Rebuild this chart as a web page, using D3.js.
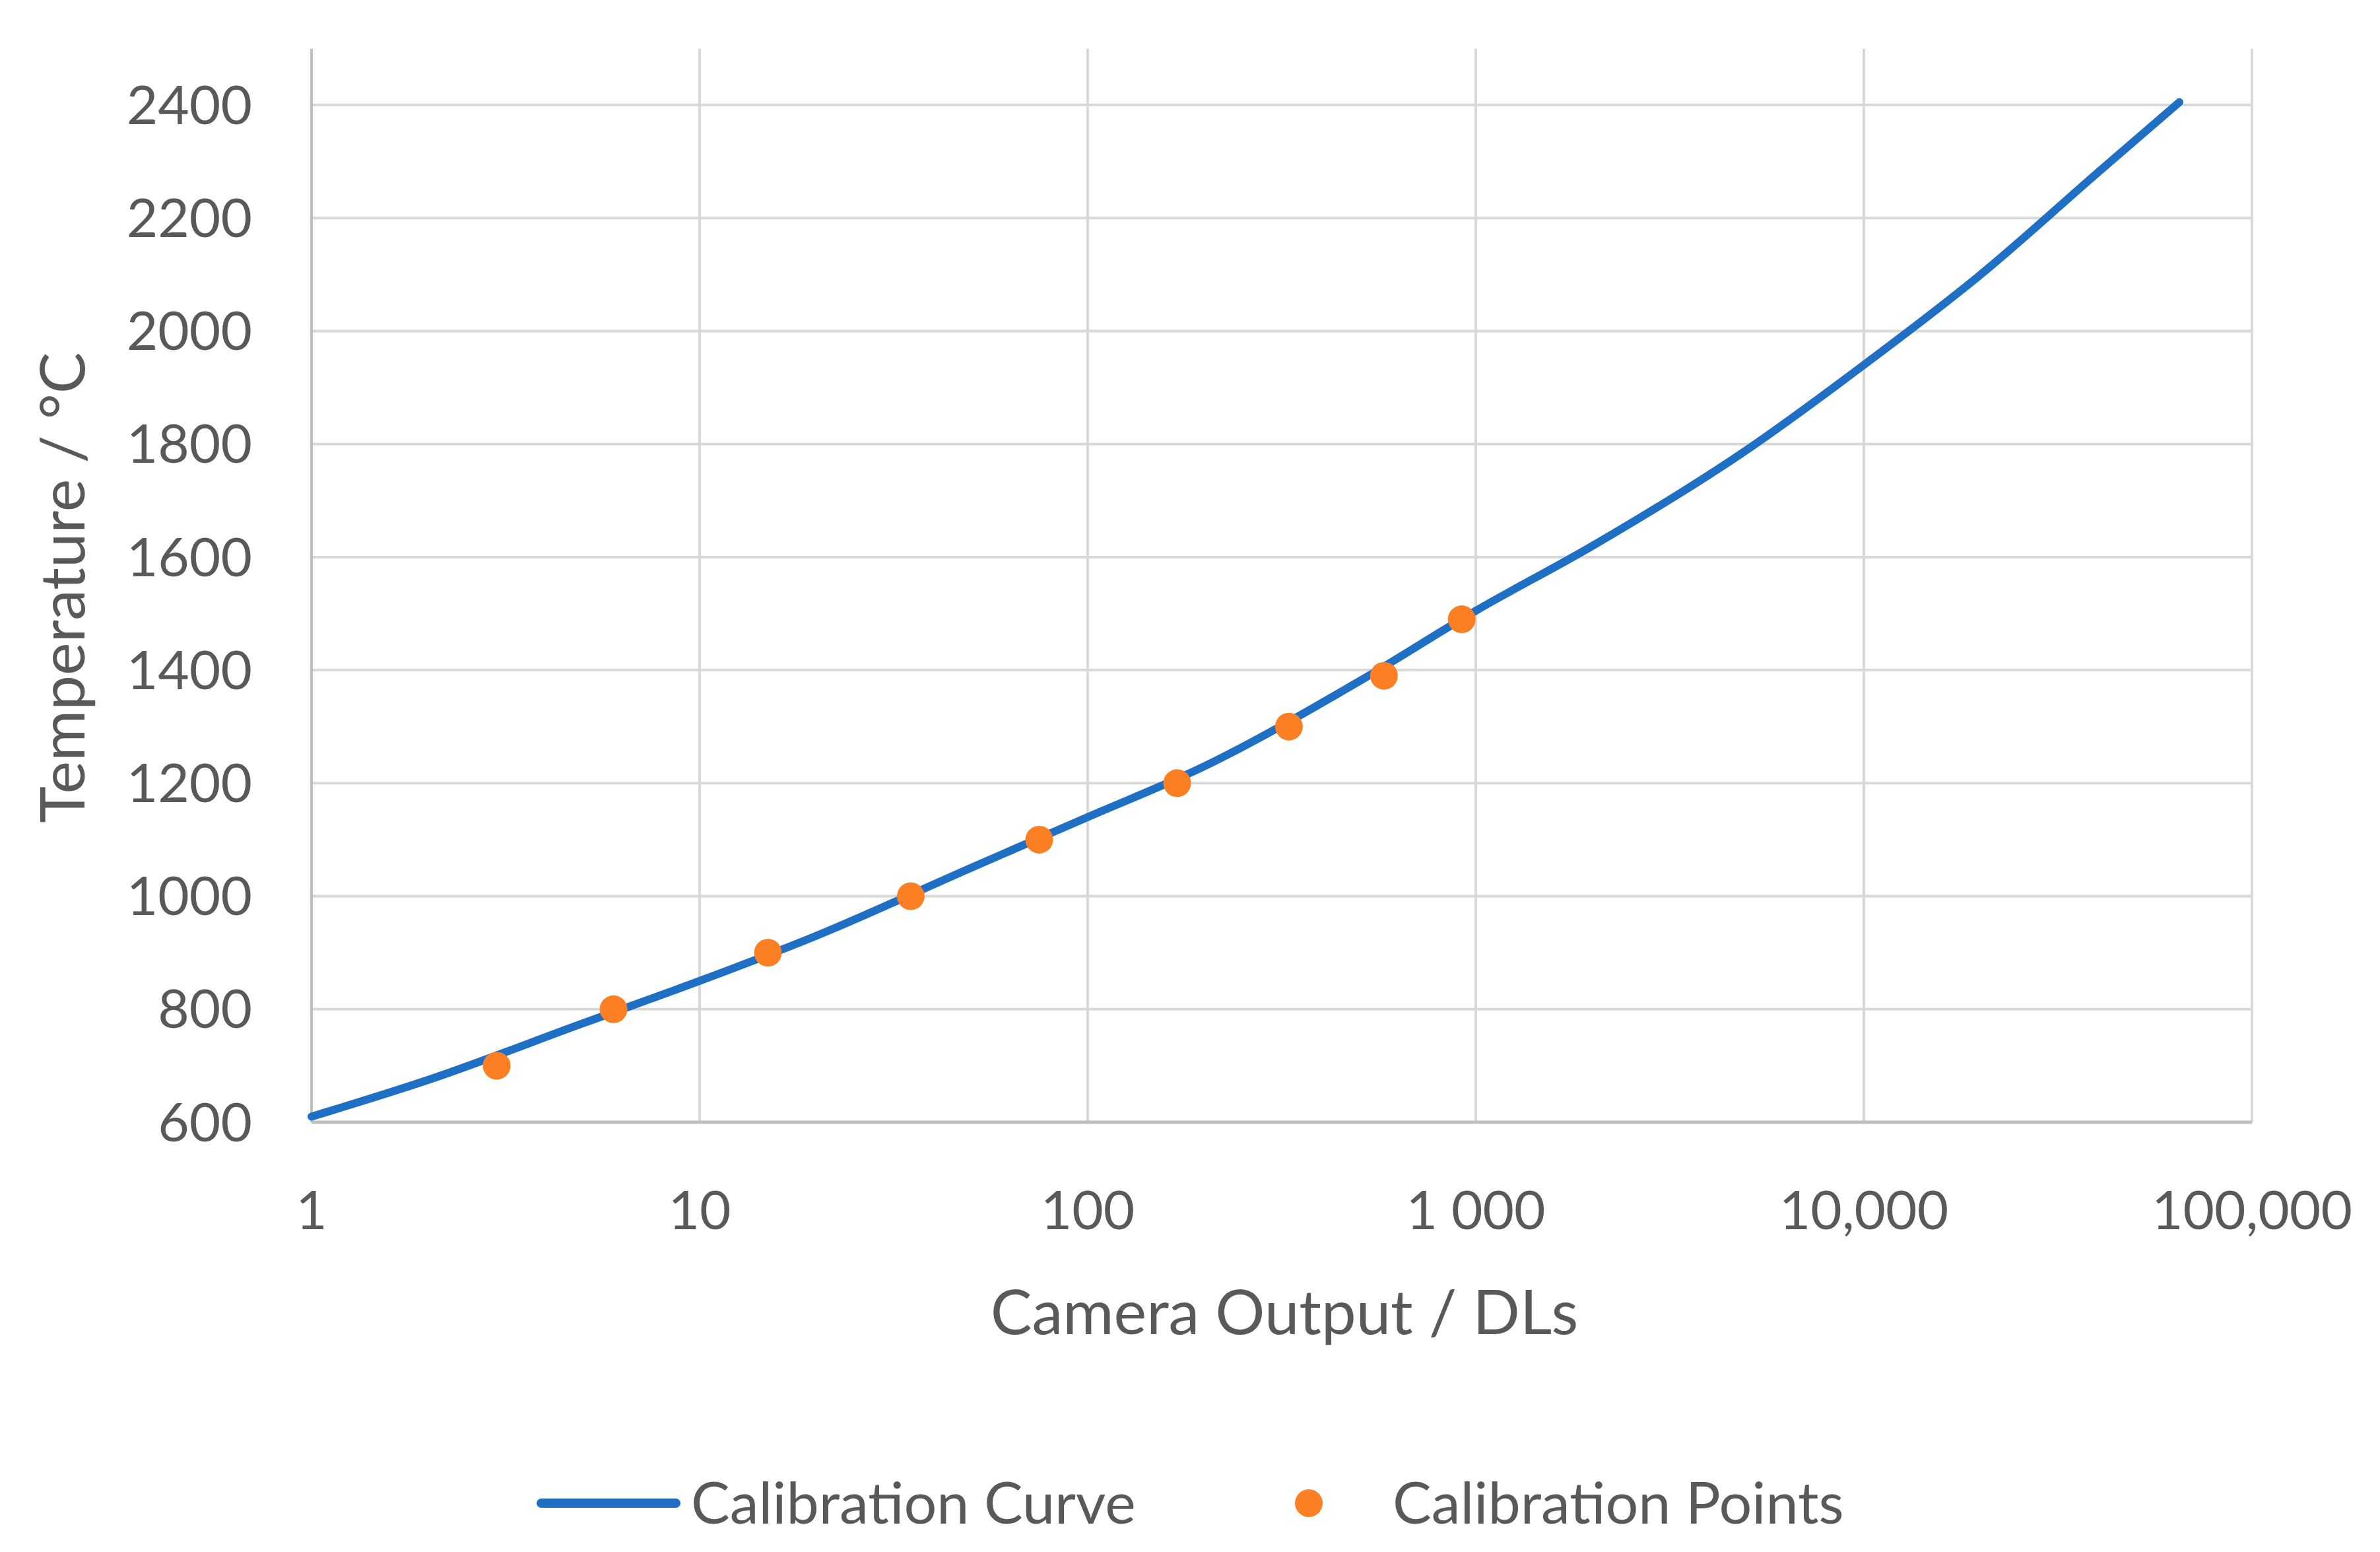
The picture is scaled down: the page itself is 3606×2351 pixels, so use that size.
<!DOCTYPE html>
<html>
<head>
<meta charset="utf-8">
<script src="https://cdn.jsdelivr.net/npm/d3@7"></script>
<style>
  body { margin: 0; background: #fff; }
  text { font-family: Lato, "Open Sans", sans-serif; fill: #595959; }
</style>
</head>
<body>
<svg id="chart" width="3606" height="2351"></svg>
<script>
// Calibration curve
var curveDL = [1, 2, 5, 10, 20, 50, 100, 200, 500, 1000, 2000, 5000, 10000, 20000, 40000, 65000];
var curveTemp = [610, 675, 775, 850, 930, 1050, 1140, 1230, 1380, 1505, 1620, 1790, 1940, 2100, 2280, 2405];

// Calibration points
var pointDL = [3, 6, 15, 35, 75, 170, 330, 580, 920];
var pointTemp = [700, 800, 900, 1000, 1100, 1200, 1300, 1390, 1490];

var xTicks = [1, 10, 100, 1000, 10000, 100000];
var xTickLabels = ['1', '10', '100', '1 000', '10,000', '100,000'];
var yTicks = [600, 800, 1000, 1200, 1400, 1600, 1800, 2000, 2200, 2400];

var svg = d3.select('#chart');
var plotLeft = 472, plotRight = 3412, plotTop = 159, plotBottom = 1700;

var x = d3.scaleLog().domain([1, 100000]).range([plotLeft, plotRight]);
var y = d3.scaleLinear().domain([600, 2400]).range([plotBottom, plotTop]);

// Gridlines
svg.append('g').selectAll('line').data(yTicks.slice(1)).enter().append('line')
    .attr('x1', plotLeft).attr('x2', plotRight)
    .attr('y1', function (d) { return y(d); }).attr('y2', function (d) { return y(d); })
    .attr('stroke', '#d9d9d9').attr('stroke-width', 4);
svg.append('g').selectAll('line').data(xTicks).enter().append('line')
    .attr('x1', function (d) { return x(d); }).attr('x2', function (d) { return x(d); })
    .attr('y1', plotTop - 85).attr('y2', plotBottom)
    .attr('stroke', function (d) { return d === 1 ? '#bfbfbf' : '#d9d9d9'; })
    .attr('stroke-width', 4);
svg.append('line')
    .attr('x1', plotLeft).attr('x2', plotRight).attr('y1', plotBottom).attr('y2', plotBottom)
    .attr('stroke', '#bfbfbf').attr('stroke-width', 5);

// Tick labels
svg.append('g').selectAll('text').data(yTicks).enter().append('text')
    .attr('x', 382).attr('y', function (d) { return y(d); })
    .attr('dy', '0.35em').attr('text-anchor', 'end')
    .attr('font-size', 82).text(function (d) { return d; });
svg.append('g').selectAll('text').data(xTicks).enter().append('text')
    .attr('x', function (d) { return x(d); }).attr('y', 1833)
    .attr('dy', '0.35em').attr('text-anchor', 'middle')
    .attr('font-size', 82).text(function (d, i) { return xTickLabels[i]; });

// Axis titles
svg.append('text').attr('x', 1946).attr('y', 1988).attr('dy', '0.35em')
    .attr('text-anchor', 'middle').attr('font-size', 94).text('Camera Output / DLs');
svg.append('text').attr('transform', 'translate(95,890) rotate(-90)').attr('dy', '0.35em')
    .attr('text-anchor', 'middle').attr('font-size', 94).text('Temperature / °C');

// Curve
var curve = curveDL.map(function (d, i) { return [d, curveTemp[i]]; });
svg.append('path').datum(curve)
    .attr('d', d3.line().x(function (d) { return x(d[0]); }).y(function (d) { return y(d[1]); }).curve(d3.curveMonotoneX))
    .attr('fill', 'none').attr('stroke', '#1f6fc5').attr('stroke-width', 12).attr('stroke-linecap', 'round');

// Points
svg.append('g').selectAll('circle').data(pointDL).enter().append('circle')
    .attr('cx', function (d) { return x(d); })
    .attr('cy', function (d, i) { return y(pointTemp[i]); })
    .attr('r', 21).attr('fill', '#fd7f23');

// Legend
svg.append('line').attr('x1', 820).attr('x2', 1024).attr('y1', 2277).attr('y2', 2277)
    .attr('stroke', '#1f6fc5').attr('stroke-width', 14).attr('stroke-linecap', 'round');
svg.append('text').attr('x', 1047).attr('y', 2277).attr('dy', '0.35em')
    .attr('font-size', 88).text('Calibration Curve');
svg.append('circle').attr('cx', 1983).attr('cy', 2277).attr('r', 21).attr('fill', '#fd7f23');
svg.append('text').attr('x', 2110).attr('y', 2277).attr('dy', '0.35em')
    .attr('font-size', 88).text('Calibration Points');
</script>
</body>
</html>
